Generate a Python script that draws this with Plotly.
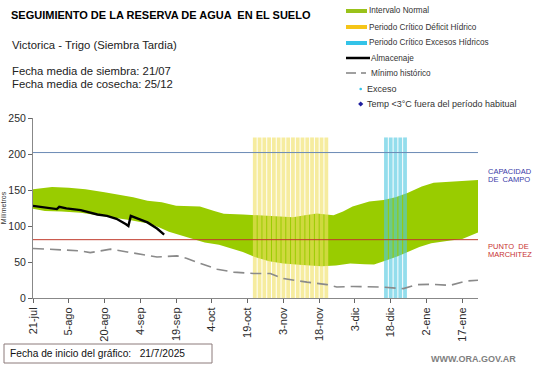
import pandas as pd
import plotly.graph_objects as go

# ---------------- data ----------------
START = pd.Timestamp("2025-07-21")
END_DAY = 186.6

tick_labels = ["21-jul", "5-ago", "20-ago", "4-sep", "19-sep", "4-oct", "19-oct",
               "3-nov", "18-nov", "3-dic", "18-dic", "2-ene", "17-ene"]
tick_dates = ["2025-07-21", "2025-08-05", "2025-08-20", "2025-09-04", "2025-09-19",
              "2025-10-04", "2025-10-19", "2025-11-03", "2025-11-18", "2025-12-03",
              "2025-12-18", "2026-01-02", "2026-01-17"]

upper_days = [0, 4, 8, 15, 22, 30, 35, 42, 48, 54, 60, 66, 70, 76, 80, 88, 95, 101,
              109, 114, 119, 126, 130, 134, 141, 147, 152, 157, 163, 168, 177, 186.6]
upper_vals = [151, 153, 154, 153, 151, 147, 144, 140, 135, 133, 128, 127, 127, 121, 117,
              116, 115, 114, 112, 115, 117.5, 115, 120, 127, 134, 136, 140, 146, 155, 160,
              161.5, 164]

lower_days = [0, 5, 12, 20, 28, 35, 41, 49, 53, 57, 62, 66, 72, 78, 82, 88, 93, 99, 105,
              113, 121, 127, 133, 139, 143, 148, 153, 158, 162, 167, 171, 175, 180, 186.6]
lower_vals = [124, 121, 120, 118.5, 115, 111, 108, 103, 98, 92, 87, 83, 77, 74, 70, 64, 57,
              51, 48, 46, 44, 45, 48, 47, 46.5, 52, 58, 65, 71, 76, 78.5, 80, 82, 91]

alm_days = [0, 4, 10, 11, 14, 20, 23, 27, 31, 35, 39, 40, 41, 44, 48, 52, 55]
alm_vals = [128, 126.5, 123.5, 126.5, 124.5, 122, 119, 116, 114, 110, 102.5, 100, 114,
            110, 105, 96.5, 88]

min_days = [0, 6, 14, 20, 24, 32.5, 39.5, 47.8, 52, 60.4, 64.6, 70.2, 77.2, 84.1, 92.5,
            99.5, 105, 114.9, 123.3, 127.4, 134.4, 145.6, 155.3, 161, 166.5, 174.9, 181.9,
            186.6]
min_vals = [68.8, 67.8, 65.5, 65.5, 63, 67.8, 64, 59.5, 57, 58.5, 55, 48, 40, 36, 34, 34,
            27, 22, 18.6, 15.3, 16, 15.3, 13, 18.6, 19, 17.6, 23.7, 24.6]

deficit_dates = ["2025-10-22", "2025-10-24", "2025-10-26", "2025-10-28", "2025-10-30",
                 "2025-11-01", "2025-11-03", "2025-11-05", "2025-11-07", "2025-11-09",
                 "2025-11-11", "2025-11-13", "2025-11-15", "2025-11-17", "2025-11-19",
                 "2025-11-21"]
exceso_dates = ["2025-12-16", "2025-12-18", "2025-12-20", "2025-12-22", "2025-12-24"]
period_height = 223

capacidad_campo = 202
punto_marchitez = 81


def to_dates(days):
    return [START + pd.Timedelta(days=d) for d in days]


END = START + pd.Timedelta(days=END_DAY)

# ---------------- figure ----------------
W, H = 541, 368
ML, MR, MT, MB = 33, 63, 118, 70
PW, PH = W - ML - MR, H - MT - MB


def px(x):
    return (x - ML) / PW


def py(y):
    return (H - MB - y) / PH


fig = go.Figure()

# normal interval band
bx = to_dates(upper_days) + to_dates(lower_days)[::-1]
by = upper_vals + lower_vals[::-1]
fig.add_trace(go.Scatter(x=bx, y=by, fill="toself", fillcolor="#99CC00",
                         line=dict(width=0), mode="lines", hoverinfo="skip"))


def stripes(dates, color):
    xs, ys = [], []
    for d in dates:
        xs += [d, d, None]
        ys += [0, period_height, None]
    return go.Scatter(x=xs, y=ys, mode="lines", line=dict(color=color, width=3.8),
                      hoverinfo="skip")


fig.add_trace(stripes(deficit_dates, "rgba(240,225,100,0.62)"))
fig.add_trace(stripes(exceso_dates, "rgba(80,200,225,0.62)"))

# reference lines
fig.add_trace(go.Scatter(x=[START, END], y=[capacidad_campo] * 2, mode="lines",
                         line=dict(color="#6A8AB5", width=1)))
fig.add_trace(go.Scatter(x=[START, END], y=[punto_marchitez] * 2, mode="lines",
                         line=dict(color="#C0392B", width=1)))

# historic minimum
fig.add_trace(go.Scatter(x=to_dates(min_days), y=min_vals, mode="lines",
                         line=dict(color="#8A8A8A", width=1.6, dash="11px,6px")))
# storage
fig.add_trace(go.Scatter(x=to_dates(alm_days), y=alm_vals, mode="lines",
                         line=dict(color="#000000", width=2.4)))

fig.update_layout(
    width=W, height=H, margin=dict(l=ML, r=MR, t=MT, b=MB, autoexpand=False),
    plot_bgcolor="white", paper_bgcolor="white", showlegend=False,
    font=dict(family="Liberation Sans, Arial, sans-serif", color="#333333"),
)
fig.update_xaxes(type="date", range=[START, END], tickvals=tick_dates, ticktext=tick_labels,
                 tickangle=-90, ticks="outside", ticklen=4, tickcolor="#666666",
                 showline=True, linecolor="#888888", linewidth=1, showgrid=False,
                 zeroline=False, tickfont=dict(size=11, color="#2b2b2b"),
                 automargin=False)
fig.update_yaxes(range=[0, 250], tickvals=[0, 50, 100, 150, 200, 250], ticks="outside",
                 ticklen=4, tickcolor="#666666", showline=True, linecolor="#888888",
                 linewidth=1, showgrid=False, zeroline=False,
                 tickfont=dict(size=10.5, color="#2b2b2b"), automargin=False,
                 title=dict(text="Milímetros", font=dict(size=7, color="#333333"), standoff=0))

ann = []
shapes = []


def text(x, y, s, size, color="#222222", bold=False, anchor="left"):
    ann.append(dict(x=px(x), y=py(y), xref="paper", yref="paper",
                    text=("<b>%s</b>" % s) if bold else s, align="left",
                    showarrow=False, xanchor=anchor, yanchor="middle", borderpad=0,
                    font=dict(size=size, color=color)))


# header texts
text(10, 14.5, "SEGUIMIENTO DE LA RESERVA DE AGUA  EN EL SUELO", 11, "#000000", bold=True)
text(11, 44.7, "Victorica - Trigo (Siembra Tardia)", 11.3)
text(11, 70.5, "Fecha media de siembra: 21/07", 11.3)
text(11, 84, "Fecha media de cosecha: 25/12", 11.3)

# legend
rows = [11, 27, 43, 58, 73, 89, 104]
legend_items = [
    ("Intervalo Normal", 368, 8.2),
    ("Periodo Crítico Déficit Hídrico", 368, 8.2),
    ("Periodo Crítico Excesos Hídricos", 368, 8.2),
    ("Almacenaje", 370, 8.2),
    ("Mínimo histórico", 370, 8.2),
    ("Exceso", 366, 9),
    ("Temp <3°C fuera del período habitual", 366, 9),
]
for (label, tx, fs), ry in zip(legend_items, rows):
    text(tx, ry, label, fs, "#333333")


def hline(x0, x1, y, color, width):
    shapes.append(dict(type="line", xref="paper", yref="paper", x0=px(x0), x1=px(x1),
                       y0=py(y), y1=py(y), line=dict(color=color, width=width)))


hline(346, 367, rows[0], "#99C21A", 4)
hline(346, 367, rows[1], "#F5C518", 4)
hline(346, 367, rows[2], "#33C3E8", 4)
hline(346, 370, rows[3], "#000000", 2.5)
hline(346, 356, rows[4], "#808080", 1.5)
hline(361, 366, rows[4], "#808080", 1.5)
shapes.append(dict(type="circle", xref="paper", yref="paper", x0=px(359.4), x1=px(362),
                   y0=py(rows[5] - 1.3), y1=py(rows[5] + 1.3), fillcolor="#33C3E8",
                   line=dict(width=0)))
cx, cy = 360.7, rows[6]
path = "M %f %f L %f %f L %f %f L %f %f Z" % (px(cx), py(cy - 2.6), px(cx + 2.6), py(cy),
                                             px(cx), py(cy + 2.6), px(cx - 2.6), py(cy))
shapes.append(dict(type="path", xref="paper", yref="paper", path=path, fillcolor="#1F1F9F",
                   line=dict(width=0)))

# right-side labels
text(487, 171, "CAPACIDAD", 7.5, "#3A3AA8")
text(487, 179.5, "DE  CAMPO", 7.5, "#3A3AA8")
text(487, 246, "PUNTO  DE", 7.5, "#C83232")
text(487, 254.5, "MARCHITEZ", 7.5, "#C83232")

# footer
shapes.append(dict(type="rect", xref="paper", yref="paper", x0=px(4), x1=px(212),
                   y0=py(363), y1=py(344), line=dict(color="#8C7B7B", width=1),
                   fillcolor="rgba(0,0,0,0)"))
text(9, 353.5, "Fecha de inicio del gráfico:   21/7/2025", 10.2, "#111111")
text(517, 358.5, "WWW.ORA.GOV.AR", 9, "#7F7F7F", bold=True, anchor="right")

fig.update_layout(annotations=ann, shapes=shapes)
fig.write_html("out.html", config={"displayModeBar": False},
               post_script="document.body.style.margin='0';document.body.style.overflow='hidden';")
